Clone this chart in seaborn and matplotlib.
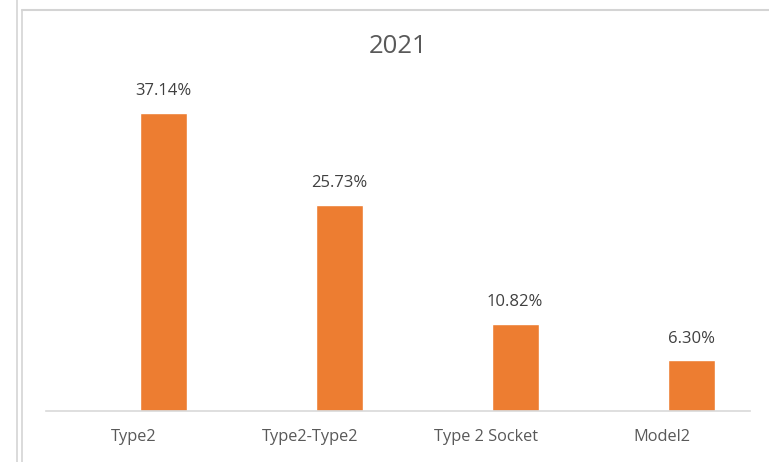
import matplotlib
matplotlib.use("Agg")
import matplotlib.pyplot as plt
import seaborn as sns
import pandas as pd
from matplotlib.lines import Line2D

categories = ["Type2", "Type2-Type2", "Type 2 Socket", "Model2"]
values = [37.14, 25.73, 10.82, 6.30]
labels = ["37.14%", "25.73%", "10.82%", "6.30%"]
series_levels = ["blank", "2021"]
title = "2021"

sns.set_theme(style="white")
plt.rcParams["font.family"] = ["Open Sans", "DejaVu Sans"]

df = pd.DataFrame({"category": categories, "value": values, "series": ["2021"] * len(categories)})

W, H = 769, 462
fig = plt.figure(figsize=(W / 100, H / 100), dpi=100)
fig.patch.set_facecolor("white")
ax = fig.add_axes([46 / W, 51 / H, (750 - 46) / W, (411 - 70) / H])

sns.barplot(data=df, x="category", y="value", hue="series", hue_order=series_levels,
            order=categories, palette={"blank": "#ED7D31", "2021": "#ED7D31"},
            width=0.66, gap=0.19, dodge=True, ax=ax, legend=False, saturation=1)

for cont in ax.containers:
    if len(cont) == 0:
        continue
    for bar, lab in zip(cont, labels):
        cx = bar.get_x() + bar.get_width() / 2
        ax.annotate(lab, (cx, bar.get_height()), xytext=(0, 10), textcoords="offset points",
                    ha="center", va="bottom", fontsize=12, color="#404040")

ax.set_ylim(0, 341 / 8.02)
ax.set_xlim(-0.5, len(categories) - 0.5)
ax.set_xlabel("")
ax.set_ylabel("")
ax.set_yticks([])
for s in ["top", "right", "left"]:
    ax.spines[s].set_visible(False)
ax.spines["bottom"].set_color("#d9d9d9")
ax.spines["bottom"].set_linewidth(1.2)
ax.tick_params(axis="x", length=0, pad=13, labelsize=11.8, labelcolor="#595959")
ax.set_facecolor("white")

fig.text(398 / W, 1 - 46.5 / H, title, ha="center", va="center", fontsize=18.5, color="#595959")

lc = "#d4d4d4"
fig.add_artist(Line2D([17 / W, 17 / W], [0, 1], color=lc, lw=1.2))
fig.add_artist(Line2D([21.5 / W, 21.5 / W], [0, 1 - 9.5 / H], color=lc, lw=1.2))
fig.add_artist(Line2D([21.5 / W, 1], [1 - 9.5 / H, 1 - 9.5 / H], color=lc, lw=1.5))

fig.savefig("out.png", dpi=100)
